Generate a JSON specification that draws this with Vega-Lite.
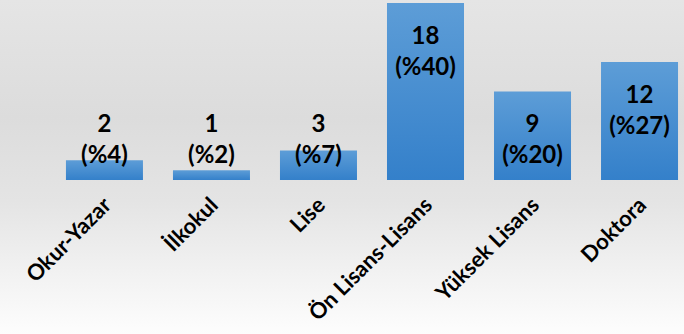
{
  "$schema": "https://vega.github.io/schema/vega-lite/v6.json",
  "autosize": {"type": "none"},
  "padding": 0,
  "width": 684,
  "height": 334,
  "background": "#ececec",
  "view": {
    "stroke": null,
    "fill": {
      "gradient": "linear", "x1": 0, "y1": 0, "x2": 0, "y2": 1,
      "stops": [
        {"offset": 0, "color": "#e5e5e5"},
        {"offset": 0.35, "color": "#dcdcdc"},
        {"offset": 0.6, "color": "#e4e4e4"},
        {"offset": 1, "color": "#fdfdfd"}
      ]
    }
  },
  "data": {
    "values": [
      {"category": "Okur-Yazar", "count": 2, "pct": 4},
      {"category": "İlkokul", "count": 1, "pct": 2},
      {"category": "Lise", "count": 3, "pct": 7},
      {"category": "Ön Lisans-Lisans", "count": 18, "pct": 40},
      {"category": "Yüksek Lisans", "count": 9, "pct": 20},
      {"category": "Doktora", "count": 12, "pct": 27}
    ]
  },
  "encoding": {
    "x": {
      "field": "category", "type": "nominal", "sort": null,
      "scale": {"paddingInner": 0.2804, "paddingOuter": 0.336, "align": 0.917},
      "axis": {
        "title": null, "orient": "bottom", "offset": -154,
        "domain": false, "ticks": false, "labelAngle": -45,
        "labelFont": "Lato", "labelFontWeight": "bold", "labelFontSize": 22,
        "labelColor": "#000000", "labelPadding": 14, "labelOffset": -4
      }
    }
  },
  "layer": [
    {
      "mark": {
        "type": "bar",
        "fill": {
          "gradient": "linear", "x1": 0, "y1": 0, "x2": 0, "y2": 1,
          "stops": [
            {"offset": 0, "color": "#5d9dd7"},
            {"offset": 1, "color": "#3480ca"}
          ]
        }
      },
      "encoding": {
        "y": {
          "field": "count", "type": "quantitative",
          "scale": {"domain": [-15.661, 18.305], "nice": false, "zero": false},
          "axis": null
        },
        "y2": {"datum": 0}
      }
    },
    {
      "transform": [
        {"calculate": "max(datum.count, 9)", "as": "labelPos"},
        {"calculate": "[datum.count + '', '(%' + datum.pct + ')']", "as": "label"}
      ],
      "mark": {
        "type": "text", "baseline": "top", "align": "center", "dy": 22,
        "font": "Lato", "fontWeight": "bold", "fontSize": 24, "lineHeight": 31, "color": "#000000"
      },
      "encoding": {
        "y": {"field": "labelPos", "type": "quantitative"},
        "text": {"field": "label"}
      }
    }
  ]
}
